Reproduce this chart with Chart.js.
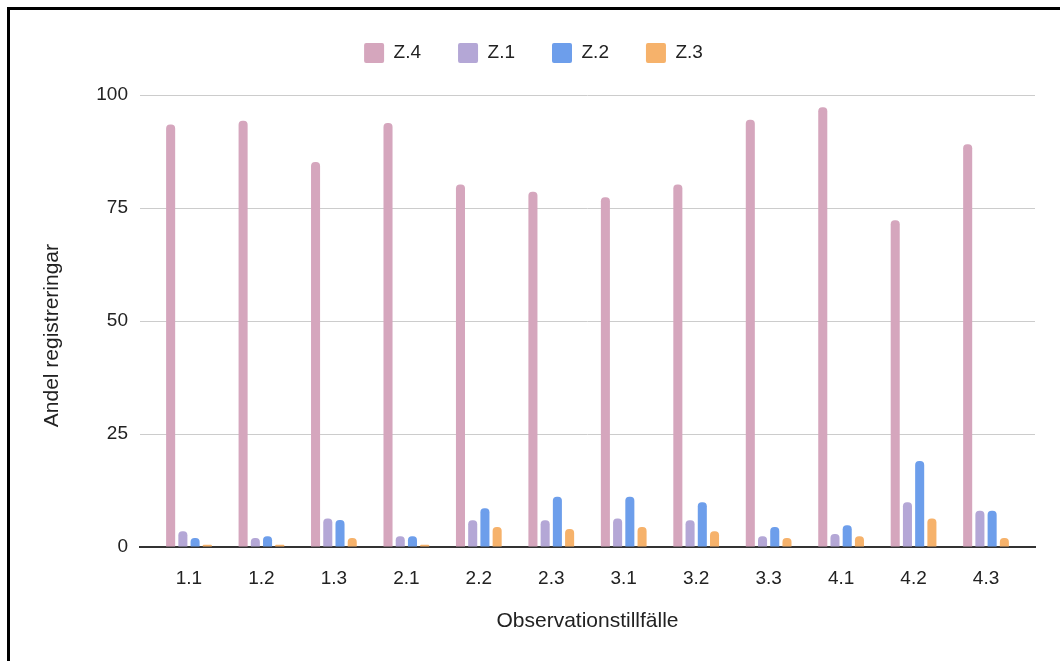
<!DOCTYPE html>
<html>
<head>
<meta charset="utf-8">
<script src="https://cdn.jsdelivr.net/npm/chart.js@4"></script>
<style>
  html, body { margin: 0; padding: 0; background: #fff; }
  #wrap { position: relative; width: 1060px; height: 661px; overflow: hidden; }
  #c { position: absolute; left: 0; top: 0; }
  #frame { position: absolute; left: 7px; top: 7px; width: 1060px; height: 661px;
           border-left: 3px solid #000; border-top: 3px solid #000; pointer-events: none; }
</style>
</head>
<body>
<div id="wrap">
  <canvas id="c" width="1060" height="661"></canvas>
  <div id="frame"></div>
</div>
<script>
const categories = ['1.1','1.2','1.3','2.1','2.2','2.3','3.1','3.2','3.3','4.1','4.2','4.3'];
const seriesNames = ['Z.4','Z.1','Z.2','Z.3'];
const z4 = [93.5, 94.3, 85.2, 93.8, 80.2, 78.6, 77.4, 80.2, 94.5, 97.3, 72.3, 89.1];
const z1 = [3.5, 2.0, 6.3, 2.4, 5.9, 5.9, 6.3, 5.9, 2.4, 2.9, 9.9, 8.0];
const z2 = [2.0, 2.4, 6.0, 2.4, 8.6, 11.1, 11.1, 9.9, 4.4, 4.8, 19.0, 8.0];
const z3 = [0.5, 0.5, 2.0, 0.5, 4.4, 4.0, 4.4, 3.5, 2.0, 2.4, 6.3, 2.0];
const yTicks = [0, 25, 50, 75, 100];
const colors = ['#d5a6bd', '#b4a7d6', '#6d9eeb', '#f6b26b'];
const xTitle = 'Observationstillfälle';
const yTitle = 'Andel registreringar';

const FONT = "'Liberation Sans', Arial, sans-serif";
const TXT = '#222222';
const edgePad = 0.676;

function pts(arr) { return arr.map((v, i) => ({ x: i, y: v })); }

const seriesValues = [z4, z1, z2, z3];
const datasets = seriesNames.map((name, k) => ({
  label: name,
  data: pts(seriesValues[k]),
  backgroundColor: colors[k],
  borderWidth: 0,
  borderRadius: 4,
  borderSkipped: 'start',
  categoryPercentage: 0.675,
  barPercentage: 0.74
}));

Chart.defaults.font.family = FONT;
Chart.defaults.color = TXT;

new Chart(document.getElementById('c'), {
  type: 'bar',
  data: { datasets },
  options: {
    responsive: false,
    animation: false,
    devicePixelRatio: 1,
    layout: { padding: { left: 32, right: 25, top: 6, bottom: 0 } },
    plugins: {
      tooltip: { enabled: false },
      legend: {
        position: 'top',
        labels: {
          boxWidth: 20, boxHeight: 20, padding: 37,
          useBorderRadius: true, borderRadius: 2,
          color: TXT,
          font: { size: 19, family: FONT }
        }
      },
      subtitle: {
        display: true, text: ' ', weight: 500, position: 'top',
        font: { size: 10, lineHeight: 1.2 }, padding: { top: 5, bottom: 5 }
      }
    },
    scales: {
      x: {
        type: 'linear',
        offset: false,
        min: -edgePad,
        max: categories.length - 1 + edgePad,
        z: 1,
        grid: { display: false, drawTicks: false },
        border: { display: true, color: '#333333', width: 2 },
        afterFit: s => { s.height = 114; },
        ticks: {
          stepSize: 1, includeBounds: false, autoSkip: false, maxRotation: 0,
          padding: 20, color: TXT, font: { size: 19, family: FONT },
          callback: v => Number.isInteger(v) ? categories[v] : ''
        },
        title: {
          display: true, text: xTitle, color: TXT,
          font: { size: 21, family: FONT }, padding: { top: 0, bottom: 27 }
        }
      },
      y: {
        min: 0, max: 100,
        afterFit: s => { s.width = 108; },
        afterBuildTicks: s => { s.ticks = yTicks.map(v => ({ value: v })); },
        grid: {
          drawTicks: false,
          color: c => (c.tick && c.tick.value === 0) ? 'rgba(0,0,0,0)' : '#cccccc',
          lineWidth: 1
        },
        border: { display: false },
        ticks: { padding: 12, color: TXT, font: { size: 19, family: FONT } },
        title: {
          display: true, text: yTitle + '     ', color: TXT,
          font: { size: 21, family: FONT }, padding: { top: 8, bottom: 0 }
        }
      }
    }
  }
});
</script>
</body>
</html>
